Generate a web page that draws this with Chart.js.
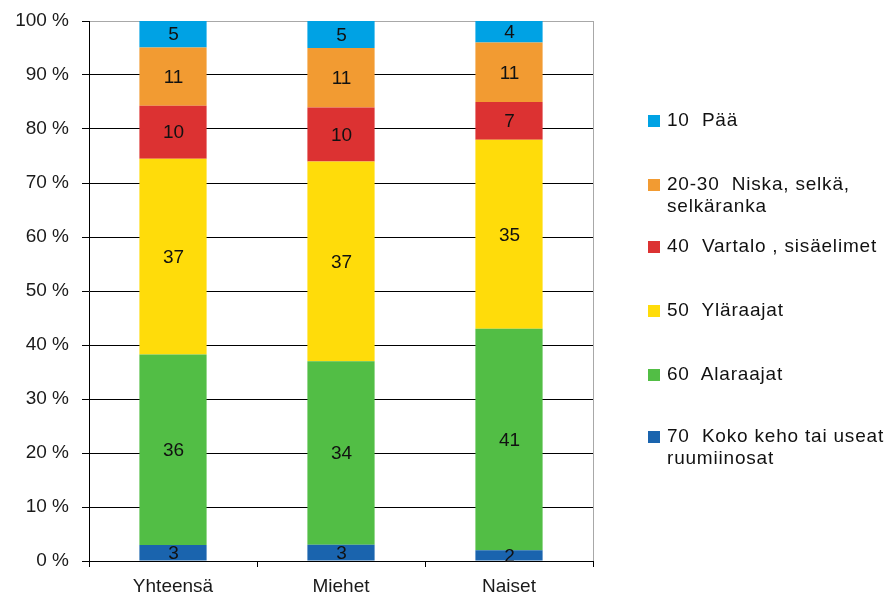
<!DOCTYPE html>
<html>
<head>
<meta charset="utf-8">
<script src="https://cdn.jsdelivr.net/npm/chart.js@4/dist/chart.umd.min.js"></script>
<style>
  html, body { margin: 0; padding: 0; background: #fff; }
  #wrap { position: relative; width: 889px; height: 595px; }
  #legend { position: absolute; left: 648px; top: 0; font-family: "Liberation Sans", Arial, sans-serif; font-size: 19px; letter-spacing: 0.8px; color: #111; }
  .item { position: absolute; left: 0; width: 240px; white-space: nowrap; }
  .sw { position: absolute; left: 0; width: 12px; height: 12px; }
  .tx { position: absolute; left: 19px; line-height: 22px; white-space: pre; }
</style>
</head>
<body>
<div id="wrap">
  <canvas id="c" width="889" height="595"></canvas>
  <div id="legend"></div>
</div>
<script>
const categories = ["Yhteensä", "Miehet", "Naiset"];
const seriesNames = ["70  Koko keho tai useat\nruumiinosat", "60  Alaraajat", "50  Yläraajat", "40  Vartalo , sisäelimet", "20-30  Niska, selkä,\nselkäranka", "10  Pää"];
const kokoKeho = [3, 3, 2];
const alaraajat = [36, 34, 41];
const ylaraajat = [37, 37, 35];
const vartalo = [10, 10, 7];
const niska = [11, 11, 11];
const paa = [5, 5, 4];
const yTicks = [0, 10, 20, 30, 40, 50, 60, 70, 80, 90, 100];
const colors = ["#1A64AE", "#52BE45", "#FFDC0A", "#DC3232", "#F29B32", "#00A2E4"];

const raw = [kokoKeho, alaraajat, ylaraajat, vartalo, niska, paa];
const totals = categories.map((_, i) => raw.reduce((s, arr) => s + arr[i], 0));
const datasets = raw.map((arr, k) => ({
  label: seriesNames[k],
  raw: arr,
  data: arr.map((v, i) => v / totals[i] * 100),
  backgroundColor: colors[k],
  borderWidth: 0,
  barPercentage: 0.4,
  categoryPercentage: 1.0
}));

const FONT = "'Liberation Sans', Arial, sans-serif";

const spacing = {
  id: 'spacing',
  beforeInit(chart) { chart.ctx.letterSpacing = '0.8px'; }
};

const valueLabels = {
  id: 'valueLabels',
  afterDatasetsDraw(chart) {
    const ctx = chart.ctx;
    ctx.save();
    ctx.font = "19px " + FONT;
    ctx.fillStyle = "#111";
    ctx.textAlign = "center";
    ctx.textBaseline = "middle";
    chart.data.datasets.forEach((ds, di) => {
      const meta = chart.getDatasetMeta(di);
      meta.data.forEach((bar, i) => {
        const yc = (bar.y + bar.base) / 2;
        ctx.fillText(String(ds.raw[i]), bar.x + 0.5, yc + 1);
      });
    });
    ctx.restore();
  }
};

const frame = {
  id: 'frame',
  beforeDatasetsDraw(chart) {
    const a = chart.chartArea, ctx = chart.ctx;
    ctx.save();
    ctx.strokeStyle = "#a8a8a8";
    ctx.lineWidth = 1;
    ctx.beginPath();
    ctx.moveTo(a.right + 0.5, a.top);
    ctx.lineTo(a.right + 0.5, a.bottom);
    ctx.stroke();
    ctx.restore();
  }
};

const chart = new Chart(document.getElementById('c'), {
  type: 'bar',
  data: { labels: categories, datasets },
  plugins: [spacing, frame, valueLabels],
  options: {
    responsive: false,
    animation: false,
    layout: { padding: { left: 0, right: 296, top: 21, bottom: 0 } },
    plugins: { legend: { display: false }, tooltip: { enabled: false } },
    scales: {
      x: {
        stacked: true,
        grid: { display: true, drawOnChartArea: false, offset: true, tickLength: 6, color: "#000", tickColor: "#000" },
        border: { display: true, color: "#000", width: 1 },
        ticks: { font: { family: FONT, size: 19 }, color: "#1a1a1a", padding: 8 },
        afterFit(s) { s.height = 34; s.paddingLeft = 0; s.paddingRight = 0; }
      },
      y: {
        stacked: true,
        min: 0, max: 100,
        afterBuildTicks(s) { s.ticks = yTicks.map(v => ({ value: v })); },
        grid: {
          color: (c) => c.tick && c.tick.value === 100 ? "#a8a8a8" : "#000",
          tickColor: "#000",
          tickLength: 7,
          lineWidth: 1
        },
        border: { display: true, color: "#000", width: 1 },
        ticks: {
          font: { family: FONT, size: 19 }, color: "#1a1a1a", padding: 13,
          callback: (v) => v + " %"
        },
        afterFit(s) { s.width = 89; s.paddingTop = 0; s.paddingBottom = 0; }
      }
    }
  }
});

// HTML legend built from datasets (top entry = last dataset)
const legend = document.getElementById('legend');
const tops = [109, 173, 235, 299, 363, 425];
const order = datasets.slice().reverse();
order.forEach((ds, k) => {
  const it = document.createElement('div');
  it.className = 'item';
  it.style.top = tops[k] + 'px';
  const sw = document.createElement('div');
  sw.className = 'sw';
  sw.style.background = ds.backgroundColor;
  sw.style.top = '6px';
  const tx = document.createElement('div');
  tx.className = 'tx';
  tx.textContent = ds.label;
  it.appendChild(sw); it.appendChild(tx);
  legend.appendChild(it);
});
</script>
</body>
</html>
